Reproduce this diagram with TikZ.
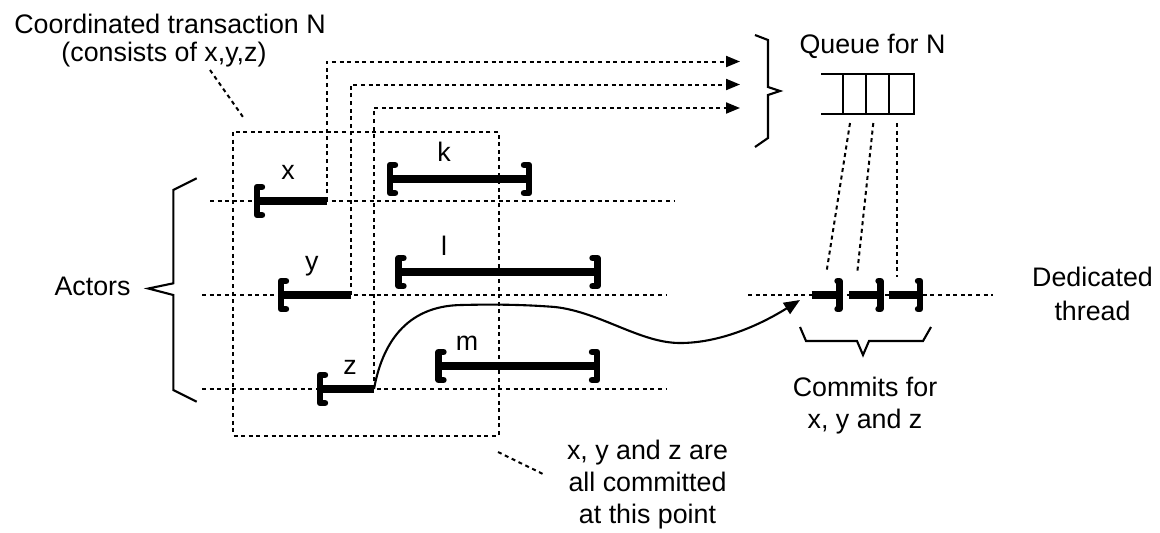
\documentclass[tikz,border=0pt]{standalone}
\usepackage{fontspec}
\setmainfont{Liberation Sans}
\usetikzlibrary{arrows.meta}
\begin{document}
\begin{tikzpicture}[x=0.5pt,y=-0.5pt,
  dotln/.style={line width=1pt, dash pattern=on 2pt off 1.8pt},
  solidln/.style={line width=1.05pt},
  seg/.style={line width=3.6pt},
  brk/.style={line width=3.2pt, line cap=round, line join=round},
  lbl/.style={anchor=base, inner sep=0pt, font=\fontsize{13.4}{16}\selectfont},
  tipa/.style={-{Triangle[length=7pt,width=5.5pt]}},
  tipb/.style={-{Triangle[length=8pt,width=6.5pt]}},
  lbrk/.pic={\draw[brk] (5,-14) -- (0,-14) -- (0,14) -- (5,14);},
  rbrk/.pic={\draw[brk] (-5,-14) -- (0,-14) -- (0,14) -- (-5,14);},
  cbrk/.pic={\draw[brk] (-2,-14) -- (0,-14) -- (0,14) -- (-2,14);}]
\useasboundingbox (0,0) rectangle (1160,532);

% transaction box
\coordinate (box1) at (233,132);
\coordinate (box2) at (499,435.5);
\draw[dotln] (box1) rectangle (box2);

% actor timelines
\coordinate (l1s) at (210,201);   \coordinate (l1e) at (675,201);
\coordinate (l2s) at (202,295);   \coordinate (l2e) at (667,295);
\coordinate (l3s) at (202,389);   \coordinate (l3e) at (667,389);
\draw[dotln] (l1s) -- (l1e);
\draw[dotln] (l2s) -- (l2e);
\draw[dotln] (l3s) -- (l3e);

% dedicated thread
\coordinate (ths) at (748,295);   \coordinate (the) at (993,295);
\draw[dotln] (ths) -- (the);

% parts of N
\coordinate (xs) at (257,201);    \coordinate (xe) at (327,201);
\coordinate (ys) at (281,295);    \coordinate (ye) at (351,295);
\coordinate (zs) at (320,389);    \coordinate (ze) at (374,389);
% other transactions
\coordinate (ks) at (390,179);    \coordinate (ke) at (529,179);
\coordinate (ls) at (398.5,272);  \coordinate (le) at (597.5,272);
\coordinate (ms) at (438.5,366);  \coordinate (me) at (597,366);

% arrow targets at the queue
\coordinate (ax) at (740,61.5);
\coordinate (ay) at (740,84.5);
\coordinate (az) at (740,108);
\draw[dotln,tipa] (xe) |- (ax);
\draw[dotln,tipa] (ye) |- (ay);
\draw[dotln,tipa] (ze) |- (az);

\draw[seg] (xs) -- (xe);  \pic at (xs) {lbrk};
\draw[seg] (ys) -- (ye);  \pic at (ys) {lbrk};
\draw[seg] (zs) -- (ze);  \pic at (zs) {lbrk};
\draw[seg] (ks) -- (ke);  \pic at (ks) {lbrk};  \pic at (ke) {rbrk};
\draw[seg] (ls) -- (le);  \pic at (ls) {lbrk};  \pic at (le) {rbrk};
\draw[seg] (ms) -- (me);  \pic at (ms) {lbrk};  \pic at (me) {rbrk};

% commits on the dedicated thread
\coordinate (c1s) at (811.5,295); \coordinate (c1e) at (839.5,295);
\coordinate (c2s) at (849,295);   \coordinate (c2e) at (880.5,295);
\coordinate (c3s) at (889,295);   \coordinate (c3e) at (920,295);
\draw[seg] (c1s) -- (c1e);  \pic at (c1e) {cbrk};
\draw[seg] (c2s) -- (c2e);  \pic at (c2e) {cbrk};
\draw[seg] (c3s) -- (c3e);  \pic at (c3e) {cbrk};

% queue for N
\draw[solidln] (821,74.3) -- (914.3,74.3) -- (914.3,114.3) -- (821,114.3);
\draw[solidln] (843,74.3) -- (843,114.3);
\draw[solidln] (866,74.3) -- (866,114.3);
\draw[solidln] (889,74.3) -- (889,114.3);

% queue entries to commits
\coordinate (q1) at (850,123);    \coordinate (k1) at (826.5,272);
\coordinate (q2) at (873.3,123);  \coordinate (k2) at (857.3,272);
\coordinate (q3) at (896.7,123);  \coordinate (k3) at (896.7,277);
\draw[dotln] (q1) -- (k1);
\draw[dotln] (q2) -- (k2);
\draw[dotln] (q3) -- (k3);

% hand-off of the commit to the dedicated thread
\coordinate (cin) at (800,300);
\draw[solidln,tipb] (ze) .. controls (382,345) and (405,306) .. (461,305)
  .. controls (500,304) and (530,305) .. (555,307)
  .. controls (600,312) and (640,343) .. (680,343)
  .. controls (720,343) and (760,325) .. (cin);

% braces
\draw[solidln] (196.7,178.3) -- (173.3,190) -- (173.3,283.3) -- (148.3,288.5)
  -- (173.3,295) -- (173.3,390) -- (196.7,401.7);
\draw[solidln] (755,35) -- (768,40) -- (768,87) -- (780,91) -- (768,95)
  -- (768,138) -- (755,147);
\draw[solidln] (800,327) -- (806,341) -- (857,341) -- (863,355) -- (869,341)
  -- (923,341) -- (931,327);

% leaders
\coordinate (n1) at (210,70);   \coordinate (n2) at (243,117);
\draw[dotln] (n1) -- (n2);
\coordinate (e1) at (498,452);  \coordinate (e2) at (543,474);
\draw[dotln] (e1) -- (e2);

% texts
\node[lbl] (t1) at (170,33.3) {Coordinated transaction N};
\node[lbl] (t2) at (164,61.7) {(consists of x,y,z)};
\node[lbl] (qn) at (872.5,53) {Queue for N};
\node[lbl] (act) at (92.5,295) {Actors};
\node[lbl] (d1) at (1092.5,286.7) {Dedicated};
\node[lbl] (d2) at (1092.5,320) {thread};
\node[lbl] (cm1) at (865,396.7) {Commits for};
\node[lbl] (cm2) at (865,428.3) {x, y and z};
\node[lbl] (p1) at (647.5,459.3) {x, y and z are};
\node[lbl] (p2) at (647.5,491.7) {all committed};
\node[lbl] (p3) at (647.5,523) {at this point};

\node[lbl] (lx) at (288,179) {x};
\node[lbl] (lk) at (444,161.7) {k};
\node[lbl] (ly) at (311.7,270) {y};
\node[lbl] (ll) at (444,255) {l};
\node[lbl] (lz) at (350,374) {z};
\node[lbl] (lm) at (467,350) {m};
\end{tikzpicture}
\end{document}
